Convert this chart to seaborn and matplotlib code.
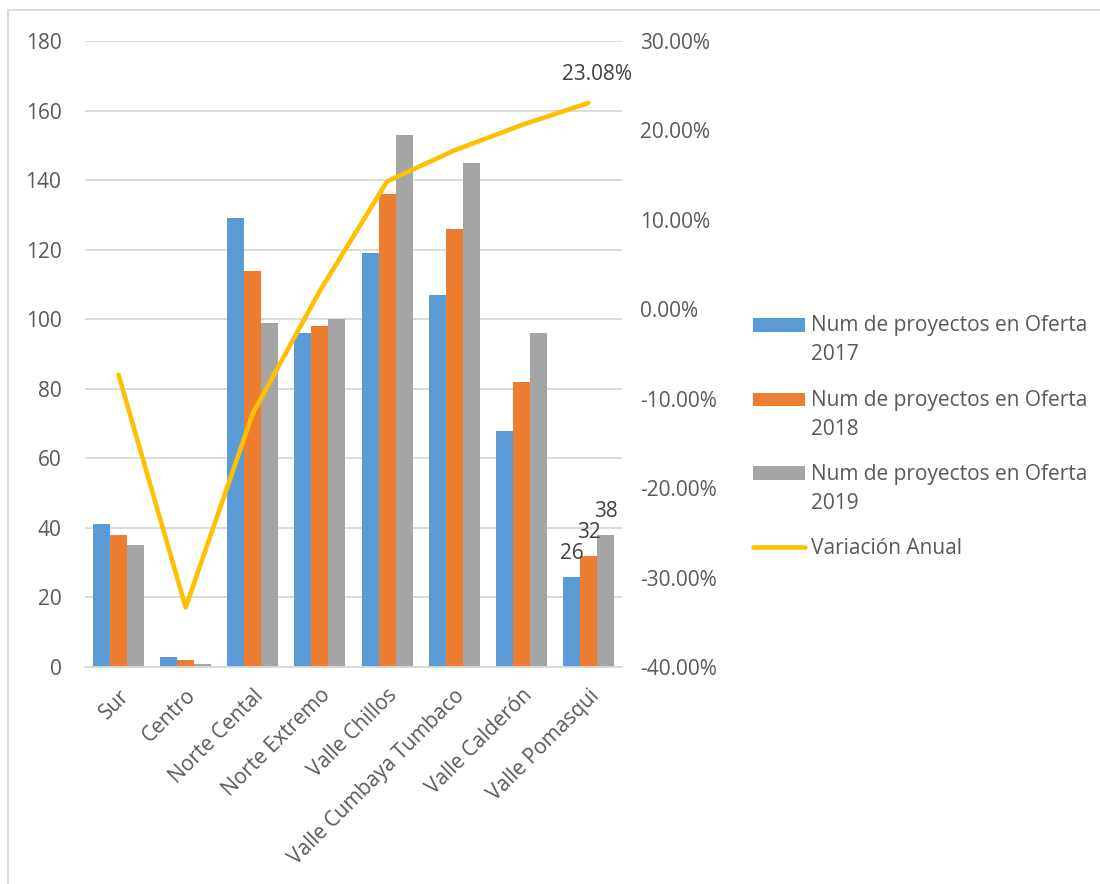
import numpy as np
import pandas as pd
import matplotlib
matplotlib.use("Agg")
import matplotlib.pyplot as plt
from matplotlib.patches import Rectangle
from matplotlib.lines import Line2D
from matplotlib.ticker import FuncFormatter
import seaborn as sns

# Zonas y número de proyectos en oferta por año
zonas = ["Sur", "Centro", "Norte Cental", "Norte Extremo", "Valle Chillos",
         "Valle Cumbaya Tumbaco", "Valle Calderón", "Valle Pomasqui"]
series = ["Num de proyectos en Oferta 2017",
          "Num de proyectos en Oferta 2018",
          "Num de proyectos en Oferta 2019"]
oferta_2017 = [41, 3, 129, 96, 119, 107, 68, 26]
oferta_2018 = [38, 2, 114, 98, 136, 126, 82, 32]
oferta_2019 = [35, 1, 99, 100, 153, 145, 96, 38]
# Variación anual (2018 frente a 2017)
variacion = [-0.0732, -0.3333, -0.1163, 0.0208, 0.1429, 0.1776, 0.2059, 0.2308]
serie_linea = "Variación Anual"

colores = ["#5B9BD5", "#ED7D31", "#A5A5A5"]
amarillo = "#FFC000"
texto = "#595959"
grid = "#D9D9D9"

df = pd.DataFrame({
    "zona": zonas * 3,
    "serie": [series[0]] * 8 + [series[1]] * 8 + [series[2]] * 8,
    "valor": oferta_2017 + oferta_2018 + oferta_2019,
})

sns.set_theme(style="white")
plt.rcParams["font.family"] = ["Open Sans", "DejaVu Sans"]
FS = 15

W, H = 1100, 884
fig = plt.figure(figsize=(W / 100, H / 100), dpi=100)
L, R, T, B = 85, 622, 41, 667
ax = fig.add_axes([L / W, 1 - B / H, (R - L) / W, (B - T) / H])

sns.barplot(data=df, x="zona", y="valor", hue="serie", order=zonas,
            hue_order=series, palette=colores, width=0.76, gap=0,
            saturation=1, linewidth=0, ax=ax, legend=False, zorder=2)

ax.set_ylim(0, 180)
ax.set_yticks(np.arange(0, 181, 20))
ax.set_xlim(-0.5, len(zonas) - 0.5)
ax.yaxis.grid(True, color=grid, linewidth=1.3, zorder=0)
ax.set_axisbelow(True)
for s in ["top", "right", "left"]:
    ax.spines[s].set_visible(False)
ax.spines["bottom"].set_color(grid)
ax.spines["bottom"].set_linewidth(1.3)
ax.set_xlabel("")
ax.set_ylabel("")
ax.tick_params(axis="y", length=0, pad=17, labelsize=FS, labelcolor=texto)
ax.tick_params(axis="x", length=0, pad=13, labelsize=FS, labelcolor=texto)
plt.setp(ax.get_xticklabels(), rotation=45, ha="right", rotation_mode="anchor")

# Etiquetas de datos en Valle Pomasqui
n = len(zonas)
for i, cont in enumerate(ax.containers):
    bar = cont.patches[n - 1]
    ax.annotate(f"{bar.get_height():.0f}",
                (bar.get_x() + bar.get_width() / 2, bar.get_height()),
                xytext=(0, 9), textcoords="offset points", ha="center",
                va="bottom", fontsize=FS, color="#404040")

# Eje secundario con la variación anual
ax2 = ax.twinx()
sns.lineplot(x=np.arange(n), y=variacion, ax=ax2, color=amarillo,
             linewidth=3.3, solid_capstyle="round", solid_joinstyle="round",
             zorder=3)
ax2.set_ylim(-0.40, 0.30)
ax2.set_yticks(np.arange(-0.40, 0.301, 0.10))
ax2.yaxis.set_major_formatter(
    FuncFormatter(lambda v, p: f"{round(v * 100, 6) + 0.0:.2f}%"))
ax2.tick_params(axis="y", length=0, pad=13, labelsize=FS, labelcolor=texto)
for s in ["top", "right", "left", "bottom"]:
    ax2.spines[s].set_visible(False)
ax2.grid(False)
ax2.annotate(f"{variacion[-1] * 100:.2f}%", (n - 1, variacion[-1]),
             xytext=(6, 13), textcoords="offset points", ha="center",
             va="bottom", fontsize=FS, color="#404040")

# Leyenda: marcador alineado con la primera línea de cada etiqueta
def px(x, y):
    return x / W, 1 - y / H

labels = [s.replace("Oferta ", "Oferta\n") for s in series]
entry_y = [325, 399.5, 473.5]
line_gap = 28
for c, lab, yc in zip(colores, labels, entry_y):
    x0, y0 = px(753, yc + 7)
    fig.add_artist(Rectangle((x0, y0), 52 / W, 14 / H,
                             transform=fig.transFigure, facecolor=c,
                             edgecolor="none"))
    # la línea base indicada es la de la última línea del texto
    tx, ty = px(811, yc + 7.5 + line_gap)
    fig.text(tx, ty, lab, ha="left", va="baseline", fontsize=FS,
             color=texto, linespacing=1.5)
lx0, ly = px(753, 547)
lx1, _ = px(805, 547)
fig.add_artist(Line2D([lx0, lx1], [ly, ly], transform=fig.transFigure,
                      color=amarillo, linewidth=3.3, solid_capstyle="round"))
tx, ty = px(811, 547 + 7.5)
fig.text(tx, ty, serie_linea, ha="left", va="baseline", fontsize=FS,
         color=texto)

# Marco del gráfico
fig.add_artist(Rectangle((8 / W, -0.01), 1.0, 1 - 10 / H + 0.01,
                         transform=fig.transFigure, fill=False,
                         edgecolor=grid, linewidth=1.3))

fig.savefig("out.png", dpi=100)
